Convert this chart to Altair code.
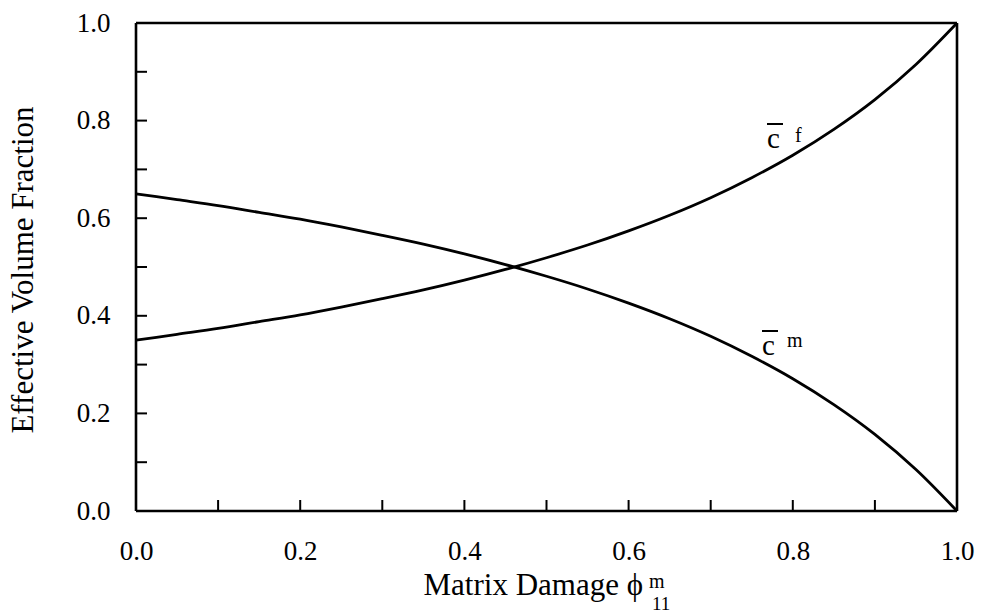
import altair as alt
import pandas as pd

# Data
phi = [0.0, 0.05, 0.1, 0.15, 0.2, 0.25, 0.3, 0.35, 0.4, 0.45, 0.5,
       0.55, 0.6, 0.65, 0.7, 0.75, 0.8, 0.85, 0.9, 0.95, 1.0]
c_f = [0.350, 0.362, 0.374, 0.388, 0.402, 0.418, 0.435, 0.453, 0.473, 0.495, 0.519,
       0.545, 0.574, 0.606, 0.642, 0.683, 0.729, 0.782, 0.843, 0.915, 1.000]
c_m = [0.650, 0.638, 0.626, 0.612, 0.598, 0.582, 0.565, 0.547, 0.527, 0.505, 0.481,
       0.455, 0.426, 0.394, 0.358, 0.317, 0.271, 0.218, 0.157, 0.085, 0.000]
x_ticks = [0.0, 0.1, 0.2, 0.3, 0.4, 0.5, 0.6, 0.7, 0.8, 0.9, 1.0]
y_ticks = [0.0, 0.1, 0.2, 0.3, 0.4, 0.5, 0.6, 0.7, 0.8, 0.9, 1.0]
label_vals = [0.0, 0.2, 0.4, 0.6, 0.8, 1.0]

W, H = 821, 488
FONT = "Liberation Serif"
FS = 27
TFS = 31

df = pd.DataFrame({
    "phi": phi * 2,
    "val": c_f + c_m,
    "series": ["f"] * len(phi) + ["m"] * len(phi),
})

xs = alt.Scale(domain=[0, 1], nice=False)
ys = alt.Scale(domain=[0, 1], nice=False)

xaxis = alt.Axis(values=label_vals, format=".1f", ticks=False, domain=False, grid=False,
                 labelFont=FONT, labelFontSize=FS, labelColor="black", labelPadding=27,
                 title=None, labelFlush=False)
yaxis = alt.Axis(values=label_vals, format=".1f", ticks=False, domain=False, grid=False,
                 labelFont=FONT, labelFontSize=FS, labelColor="black", labelPadding=26,
                 title=None, labelFlush=False)

lines = alt.Chart(df).mark_line(color="black", strokeWidth=2.8, interpolate="monotone").encode(
    x=alt.X("phi:Q", scale=xs, axis=xaxis),
    y=alt.Y("val:Q", scale=ys, axis=yaxis),
    detail="series:N",
)

xt = alt.Chart(pd.DataFrame({"t": x_ticks})).mark_rule(color="black", strokeWidth=2).encode(
    x=alt.X("t:Q", scale=xs), y=alt.value(H), y2=alt.value(H - 11))
yt = alt.Chart(pd.DataFrame({"t": y_ticks})).mark_rule(color="black", strokeWidth=2).encode(
    y=alt.Y("t:Q", scale=ys), x=alt.value(0), x2=alt.value(11))

def txt(s, x, y, size=FS, align="left", baseline="alphabetic", angle=0):
    return alt.Chart(pd.DataFrame({"s": [s]})).mark_text(
        font=FONT, fontSize=size, color="black", align=align, baseline=baseline, angle=angle
    ).encode(text="s:N", x=alt.value(x), y=alt.value(y))

def hrule(x1, x2, y, w=2):
    return alt.Chart(pd.DataFrame({"s": [0]})).mark_rule(color="black", strokeWidth=w).encode(
        x=alt.value(x1), x2=alt.value(x2), y=alt.value(y))

def vrule(x, y1, y2, w=2):
    return alt.Chart(pd.DataFrame({"s": [0]})).mark_rule(color="black", strokeWidth=w).encode(
        x=alt.value(x), y=alt.value(y1), y2=alt.value(y2))

frame = [
    hrule(0, W, 0, 2.6), hrule(0, W, H, 2.6),
    vrule(0, 0, H, 2.6), vrule(W, 0, H, 2.6),
]

annotations = [
    txt("Effective Volume Fraction", -112, 247, size=TFS, align="center", baseline="middle", angle=270),
    txt("Matrix Damage \u03d5", 507, 572, size=TFS, align="right"),
    txt("m", 513, 565, size=20),
    txt("11", 516, 587, size=19),
    txt("c", 631, 125, size=29),
    hrule(631, 647, 101),
    txt("f", 659, 119, size=20),
    txt("c", 626, 332, size=29),
    hrule(626, 642, 308),
    txt("m", 651, 324, size=20),
]

chart = alt.layer(lines, xt, yt, *frame, *annotations).properties(
    width=W, height=H,
    autosize=alt.AutoSizeParams(type="none"),
    padding={"left": 136, "top": 23, "right": 25, "bottom": 103},
).configure_view(strokeWidth=0).configure(background="white")

chart.save("out.html", embed_options={"renderer": "svg", "actions": False})
